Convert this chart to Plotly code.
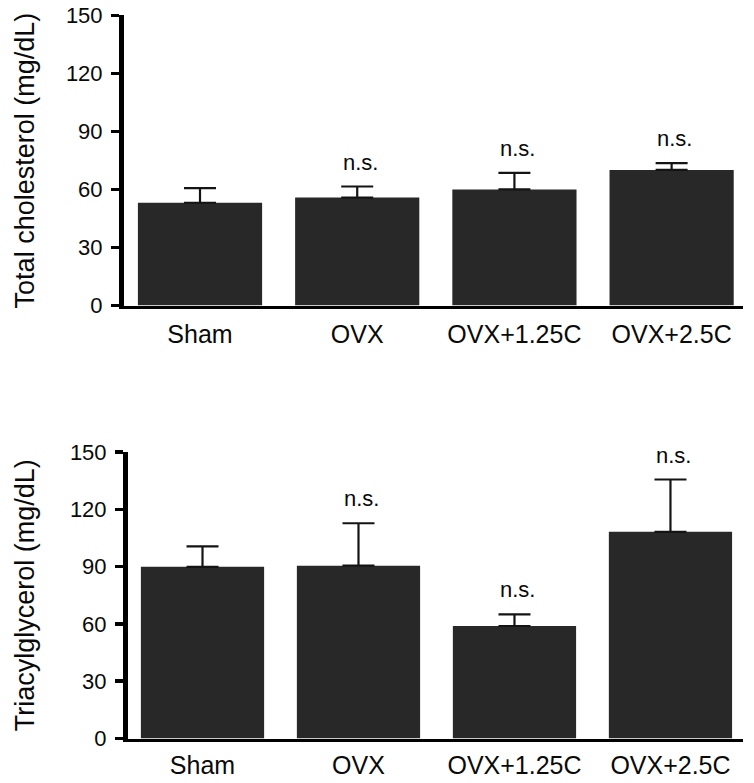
import plotly.graph_objects as go

categories = ["Sham", "OVX", "OVX+1.25C", "OVX+2.5C"]

chol_mean = [53.1, 55.8, 60.0, 70.1]
chol_sem = [7.6, 5.7, 8.6, 3.5]
chol_sig = ["", "n.s.", "n.s.", "n.s."]

tag_mean = [89.9, 90.5, 58.9, 108.2]
tag_sem = [10.7, 22.2, 6.1, 27.4]
tag_sig = ["", "n.s.", "n.s.", "n.s."]

tick_vals = [0, 30, 60, 90, 120, 150]
tick_text = ["0", "30", "60", "90", "120", "150"]

titles = ["Total cholesterol (mg/dL)", "Triacylglycerol (mg/dL)"]

FONT = "Liberation Sans, Arial, sans-serif"
BAR = "#282828"
TXT = "#0a0a0a"
W, H = 754, 783

fig = go.Figure()

panels = [
    dict(mean=chol_mean, sem=chol_sem, sig=chol_sig, xa="x", ya="y",
         xdom=[124 / W, 743 / W], ydom=[(H - 305.5) / H, (H - 15.3) / H],
         xr=[-0.4835, 3.454], title=titles[0], standoff=4),
    dict(mean=tag_mean, sem=tag_sem, sig=tag_sig, xa="x2", ya="y2",
         xdom=[128 / W, 743 / W], ydom=[(H - 738.5) / H, (H - 452) / H],
         xr=[-0.4776, 3.465], title=titles[1], standoff=2),
]

layout = dict(
    width=W, height=H,
    margin=dict(l=0, r=0, t=0, b=0, autoexpand=False),
    paper_bgcolor="white", plot_bgcolor="white",
    showlegend=False,
    font=dict(family=FONT, color=TXT),
)
annotations = []

for i, p in enumerate(panels):
    fig.add_trace(go.Bar(
        x=categories, y=p["mean"],
        marker=dict(color=BAR, line=dict(width=0)),
        width=0.79,
        error_y=dict(type="data", symmetric=False, array=p["sem"],
                     arrayminus=[0] * len(p["sem"]),
                     color="#141414", thickness=2.2, width=16),
        xaxis=p["xa"], yaxis=p["ya"],
    ))
    suffix = "" if i == 0 else "2"
    layout["xaxis" + suffix] = dict(
        domain=p["xdom"], anchor=p["ya"], range=p["xr"],
        showgrid=False, zeroline=False, automargin=False,
        showline=True, linecolor="black", linewidth=3.5,
        ticks="", tickfont=dict(size=25, family=FONT, color=TXT),
        ticklabelstandoff=p["standoff"],
        fixedrange=True,
    )
    layout["yaxis" + suffix] = dict(
        domain=p["ydom"], anchor=p["xa"], range=[0, 150],
        showgrid=False, zeroline=False, automargin=False,
        showline=True, linecolor="black", linewidth=5,
        ticks="outside", ticklen=8, tickwidth=3.5, tickcolor="black",
        tickvals=tick_vals, ticktext=tick_text,
        tickfont=dict(size=22, family=FONT, color=TXT),
        ticklabelstandoff=4,
        fixedrange=True,
    )
    for c, m, s, t in zip(categories, p["mean"], p["sem"], p["sig"]):
        if t:
            annotations.append(dict(
                x=c, y=m + s, xref=p["xa"], yref=p["ya"],
                text=t, showarrow=False, xanchor="center", yanchor="bottom",
                yshift=10, xshift=3,
                font=dict(size=22, family=FONT, color=TXT),
            ))
    annotations.append(dict(
        x=25 / W, y=(p["ydom"][0] + p["ydom"][1]) / 2, xref="paper", yref="paper",
        text=p["title"], textangle=-90, showarrow=False,
        xanchor="center", yanchor="middle",
        font=dict(size=27, family=FONT, color=TXT),
    ))

layout["annotations"] = annotations
fig.update_layout(**layout)
fig.write_html("out.html",
               config={"displayModeBar": False, "staticPlot": True},
               post_script="document.body.style.margin='0';document.body.style.padding='0';")
